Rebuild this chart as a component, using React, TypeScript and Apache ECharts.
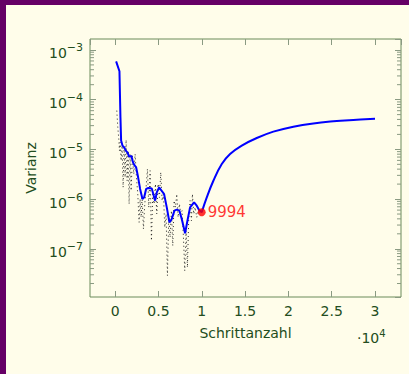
import React, { useEffect, useRef } from 'react';
import * as echarts from 'echarts';

// Smoothed variance (blue)
const blueX = [115, 500, 615, 692, 846, 1038, 1231, 1423, 1615, 1885, 2038, 2192, 2423, 2654, 2885, 3154, 3346, 3577, 3846, 4231, 4615, 4808, 5077, 5308, 5654, 5962, 6269, 6538, 6846, 7115, 7423, 7692, 8077, 8346, 8654, 9115, 9423, 9692, 9994, 10580, 11342, 12311, 13269, 14619, 16350, 18265, 20573, 22880, 25188, 27500, 30000];
const blueY = [5.90e-4, 3.72e-4, 4.42e-5, 1.50e-5, 1.19e-5, 1.10e-5, 9.42e-6, 8.71e-6, 7.13e-6, 7.36e-6, 5.66e-6, 4.92e-6, 4.36e-6, 2.74e-6, 1.60e-6, 1.00e-6, 1.08e-6, 1.60e-6, 1.67e-6, 1.64e-6, 9.29e-7, 1.36e-6, 1.72e-6, 1.52e-6, 1.26e-6, 6.82e-7, 3.40e-7, 3.97e-7, 5.85e-7, 6.12e-7, 5.85e-7, 3.97e-7, 2.05e-7, 3.67e-7, 6.82e-7, 8.59e-7, 7.36e-7, 6.03e-7, 5.41e-7, 1.08e-6, 2.34e-6, 5.06e-6, 8.07e-6, 1.19e-5, 1.69e-5, 2.27e-5, 2.86e-5, 3.33e-5, 3.66e-5, 3.91e-5, 4.15e-5];

// Raw variance (black dotted)
const dotX = [192, 308, 423, 500, 577, 692, 808, 923, 1038, 1154, 1269, 1385, 1500, 1615, 1731, 1846, 2000, 2154, 2308, 2462, 2615, 2769, 2885, 3000, 3115, 3269, 3423, 3577, 3731, 3885, 4038, 4192, 4346, 4500, 4654, 4808, 4962, 5115, 5269, 5423, 5577, 5731, 5885, 6038, 6192, 6346, 6500, 6654, 6808, 6962, 7115, 7269, 7423, 7577, 7731, 7885, 8038, 8192, 8346, 8500, 8654, 8808, 8923, 9077, 9231, 9423, 9615, 9808, 9994];
const dotY = [6.01e-5, 2.77e-5, 1.62e-5, 9.42e-6, 1.39e-5, 5.93e-6, 1.19e-5, 1.72e-6, 1.10e-5, 2.74e-6, 1.55e-5, 2.34e-6, 9.42e-6, 7.96e-7, 8.07e-6, 1.48e-6, 7.46e-6, 3.19e-6, 8.07e-6, 2.74e-6, 1.26e-6, 3.40e-7, 1.00e-6, 4.30e-7, 1.08e-6, 2.50e-7, 7.96e-7, 1.72e-6, 4.03e-6, 6.82e-7, 3.72e-6, 1.46e-7, 1.26e-6, 7.96e-7, 2.01e-6, 5.01e-7, 2.01e-6, 1.08e-6, 3.45e-6, 9.29e-7, 1.26e-6, 2.70e-7, 5.01e-7, 2.88e-8, 4.30e-7, 1.70e-7, 5.85e-7, 1.15e-7, 9.29e-7, 6.82e-7, 1.26e-6, 4.30e-7, 7.96e-7, 5.01e-7, 5.85e-7, 1.70e-7, 3.62e-8, 2.31e-7, 4.23e-8, 4.30e-7, 9.29e-7, 3.67e-7, 1.26e-6, 5.01e-7, 6.82e-7, 4.30e-7, 5.85e-7, 5.01e-7, 5.41e-7];

// Highlighted minimum
const markX = [9994];
const markY = [5.41e-7];
const markLabels = ['9994'];

// Axis settings
const xMin = -2900;
const xMax = 33000;
const xStep = 5000;
const xScale = 10000;
const yMin = Math.pow(10, -7.97);
const yMax = Math.pow(10, -2.78);
const xName = 'Schrittanzahl';
const yName = 'Varianz';
const xScaleLabel = '·10{sup|4}';

const PURPLE = '#660066';
const CREAM = '#fffdea';
const TEXT = '#234d20';
const BOX = '#6b8b5b';
const TICK = '#8a9a82';
const FONT = 'DejaVu Sans';

export default function App() {
  const ref = useRef<HTMLDivElement>(null);

  useEffect(() => {
    if (!ref.current) return;
    const chart = echarts.init(ref.current, undefined, { renderer: 'svg' });

    const minorTicks: number[][] = [];
    for (let e = -9; e <= -2; e++) {
      for (let k = 2; k <= 9; k++) {
        const v = k * Math.pow(10, e);
        if (v > yMin && v < yMax) minorTicks.push([xStep, v]);
      }
    }

    const yLabelFmt = (v: number) => {
      const e = Math.log10(v);
      const r = Math.round(e);
      if (Math.abs(e - r) > 1e-6) return '';
      return `{b|10}{sup|−${-r}}`;
    };

    const tick = { inside: true, length: 6, lineStyle: { color: TICK } };
    const noLine = { show: false, onZero: false };

    const blue = blueX.map((x, i) => [x, blueY[i]]);
    const splitIdx = blueX.indexOf(markX[0]);
    const blueNoisy = blue.slice(0, splitIdx + 1);
    const blueRise = blue.slice(splitIdx);

    const option: any = {
      animation: false,
      backgroundColor: CREAM,
      textStyle: { fontFamily: FONT },
      grid: {
        left: 84,
        top: 34,
        right: 8,
        bottom: 77,
        show: true,
        borderColor: BOX,
        borderWidth: 1,
        backgroundColor: 'transparent',
      },
      xAxis: [
        {
          type: 'value',
          min: xMin,
          max: xMax,
          minInterval: xStep,
          maxInterval: xStep,
          splitNumber: 7,
          position: 'bottom',
          axisLine: noLine,
          splitLine: { show: false },
          axisTick: tick,
          axisLabel: {
            margin: 7,
            color: TEXT,
            fontSize: 14,
            fontFamily: FONT,
            showMinLabel: false,
            showMaxLabel: false,
            formatter: (v: number) => (Math.abs(v % xStep) < 1e-6 ? String(v / xScale) : ''),
          },
          name: xName,
          nameLocation: 'middle',
          nameGap: 29,
          nameTextStyle: { color: TEXT, fontSize: 14, fontFamily: FONT },
        },
        {
          type: 'value',
          min: xMin,
          max: xMax,
          minInterval: xStep,
          maxInterval: xStep,
          splitNumber: 7,
          position: 'top',
          axisLine: noLine,
          splitLine: { show: false },
          axisTick: tick,
          axisLabel: { show: false },
        },
      ],
      yAxis: [
        {
          type: 'log',
          logBase: 10,
          min: yMin,
          max: yMax,
          position: 'left',
          axisLine: noLine,
          splitLine: { show: false },
          minorTick: { show: false },
          axisTick: tick,
          axisLabel: {
            margin: 7,
            color: TEXT,
            fontFamily: FONT,
            showMinLabel: false,
            showMaxLabel: false,
            padding: [7, 0, 0, 0],
            formatter: yLabelFmt,
            rich: {
              b: { fontSize: 14, lineHeight: 22, color: TEXT, fontFamily: FONT },
              sup: { fontSize: 11, lineHeight: 11, verticalAlign: 'top', color: TEXT, fontFamily: FONT },
            },
          },
          name: yName,
          nameLocation: 'middle',
          nameGap: 50,
          nameRotate: 90,
          nameTextStyle: { color: TEXT, fontSize: 14, fontFamily: FONT },
        },
        {
          type: 'log',
          logBase: 10,
          min: yMin,
          max: yMax,
          position: 'right',
          axisLine: noLine,
          splitLine: { show: false },
          axisTick: tick,
          axisLabel: { show: false },
        },
      ],
      graphic: [
        {
          type: 'text',
          left: 351,
          top: 323,
          silent: true,
          style: {
            text: xScaleLabel,
            fill: TEXT,
            font: `14px "${FONT}"`,
            rich: {
              sup: { fontSize: 10, lineHeight: 10, verticalAlign: 'top', fill: TEXT, fontFamily: FONT },
            },
            lineHeight: 20,
          },
        },
      ],
      series: [
        {
          type: 'custom',
          silent: true,
          clip: false,
          xAxisIndex: 0,
          yAxisIndex: 0,
          encode: { x: 0, y: 1 },
          data: minorTicks,
          z: 5,
          renderItem: (params: any, api: any) => {
            const v = api.value(1);
            const p = api.coord([xStep, v]);
            const pl = api.coord([xMin, v]);
            const pr = api.coord([xMax, v]);
            const y = p[1];
            const L = pl[0];
            const R = pr[0];
            return {
              type: 'group',
              children: [
                { type: 'line', shape: { x1: L, y1: y, x2: L + 4, y2: y }, style: { stroke: TICK, lineWidth: 1 } },
                { type: 'line', shape: { x1: R - 4, y1: y, x2: R, y2: y }, style: { stroke: TICK, lineWidth: 1 } },
              ],
            };
          },
        },
        {
          type: 'line',
          data: dotX.map((x, i) => [x, dotY[i]]),
          showSymbol: false,
          symbol: 'none',
          lineStyle: { color: '#222222', width: 1, type: [1, 3] },
          z: 2,
        },
        {
          type: 'line',
          data: blueNoisy,
          showSymbol: false,
          symbol: 'none',
          lineStyle: { color: '#0000ff', width: 2 },
          z: 3,
        },
        {
          type: 'line',
          data: blueRise,
          showSymbol: false,
          symbol: 'none',
          smooth: 0.4,
          lineStyle: { color: '#0000ff', width: 2 },
          z: 3,
        },
        {
          type: 'scatter',
          data: markX.map((x, i) => [x, markY[i]]),
          symbol: 'circle',
          symbolSize: 8,
          itemStyle: { color: '#ff0000' },
          z: 4,
          label: {
            show: true,
            position: 'right',
            distance: 2,
            color: '#ff0000',
            fontSize: 15,
            fontFamily: FONT,
            formatter: (p: any) => markLabels[p.dataIndex],
          },
        },
      ],
    };

    chart.setOption(option);
    return () => chart.dispose();
  }, []);

  return (
    <div style={{ position: 'fixed', left: 0, top: 0, width: 409, height: 374, background: PURPLE }}>
      <div
        ref={ref}
        style={{ position: 'absolute', left: 6, top: 5, width: 403, height: 369, background: CREAM }}
      />
    </div>
  );
}
